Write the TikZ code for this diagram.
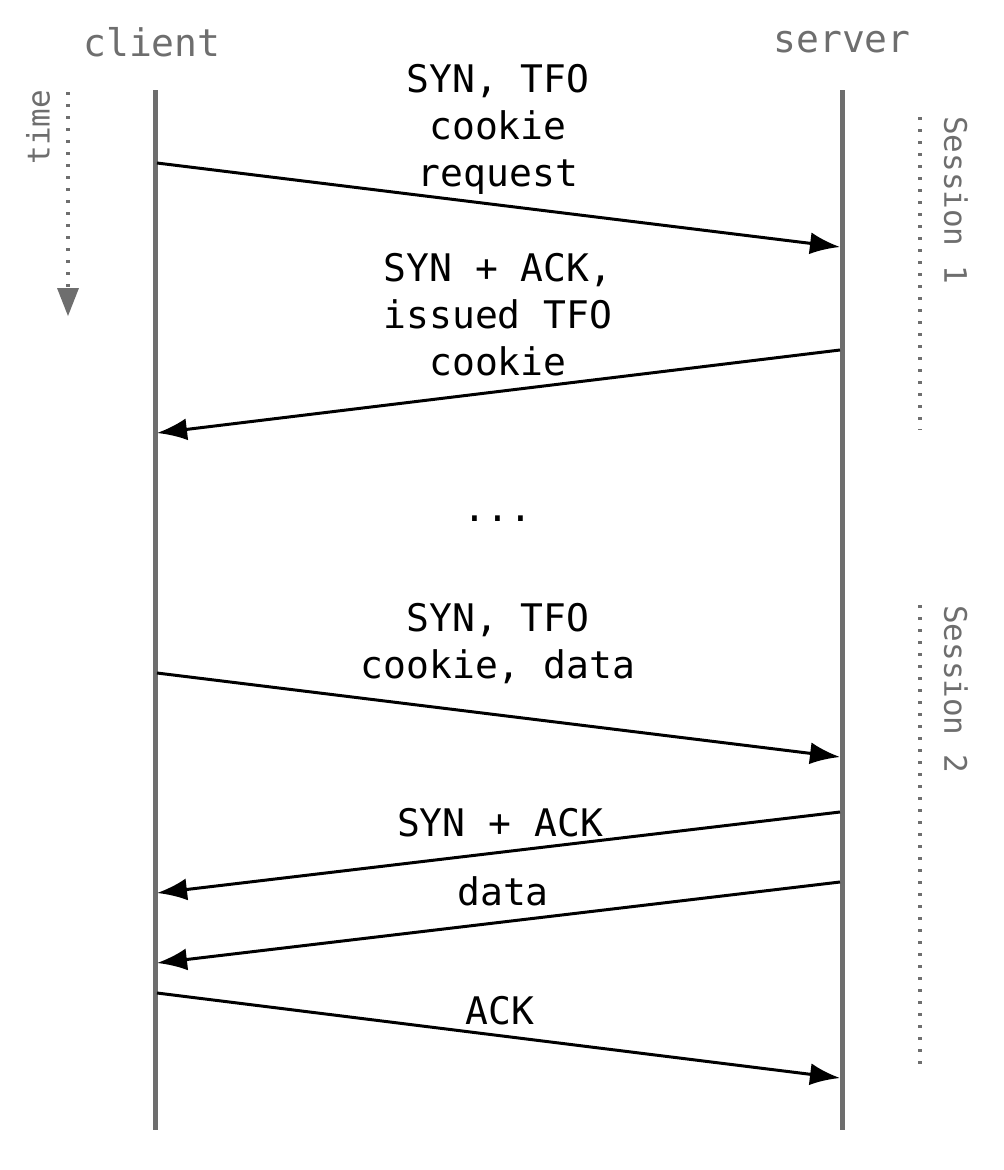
\documentclass[tikz,border=0pt]{standalone}
\usepackage{fontspec}
\setmonofont{DejaVu Sans Mono}
\usetikzlibrary{arrows.meta}
\definecolor{lifegray}{HTML}{6E6E6E}
\tikzset{
  actor/.style={font=\ttfamily\fontsize{38}{46}\selectfont, text=lifegray},
  lifeline/.style={draw=lifegray, line width=5pt},
  msg/.style={draw=black, line width=3pt, -{Latex[length=30pt,width=22pt]}},
  msglabel/.style={font=\ttfamily\fontsize{38}{47}\selectfont, align=center, inner sep=0pt},
  sidenote/.style={font=\ttfamily\fontsize{31}{38}\selectfont, text=lifegray, inner sep=0pt},
  dotline/.style={draw=lifegray, line width=3.2pt, dash pattern=on 3.2pt off 8.8pt}
}
\begin{document}
\begin{tikzpicture}[x=1pt,y=-1pt]
\useasboundingbox (0,0) rectangle (1004,1170);

% Client and server
\node[actor] (client) at (152,42) {client};
\node[actor] (server) at (842,42) {server};
\coordinate (ctop) at (155,90);
\coordinate (cbot) at (155,1130);
\coordinate (stop) at (842,90);
\coordinate (sbot) at (842,1130);
\draw[lifeline] (ctop) -- (cbot);
\draw[lifeline] (stop) -- (sbot);

% time
\node[sidenote, rotate=90] (time) at (38,127) {time};
\coordinate (tstart) at (68,92);
\coordinate (tend) at (68,288);
\coordinate (ttip) at (68,316);
\draw[dotline] (tstart) -- (tend);
\fill[lifegray] (57,288) -- (79,288) -- (ttip) -- cycle;

% Session 1
\node[sidenote, rotate=-90] (sess1) at (956,200) {Session 1};
\coordinate (s1top) at (920,117);
\coordinate (s1bot) at (920,430);
\draw[dotline] (s1top) -- (s1bot);

% Session 2
\node[sidenote, rotate=-90] (sess2) at (956,689) {Session 2};
\coordinate (s2top) at (920,605);
\coordinate (s2bot) at (920,1072);
\draw[dotline] (s2top) -- (s2bot);

% SYN, TFO cookie request
\coordinate (c1) at (157,163);
\coordinate (s1) at (840,247);
\draw[msg] (c1) -- (s1);
\node[msglabel] (l1) at (498,129) {SYN, TFO\\cookie\\request};

% SYN + ACK, issued TFO cookie
\coordinate (s2) at (840,350);
\coordinate (c2) at (157,433);
\draw[msg] (s2) -- (c2);
\node[msglabel] (l2) at (498,315) {SYN + ACK,\\issued TFO\\cookie};

% ...
\node[msglabel] (dots) at (498,519) {...};

% SYN, TFO cookie, data
\coordinate (c3) at (157,673);
\coordinate (s3) at (840,757);
\draw[msg] (c3) -- (s3);
\node[msglabel] (l3) at (498,644) {SYN, TFO\\cookie, data};

% SYN + ACK
\coordinate (s4) at (840,812);
\coordinate (c4) at (157,893);
\draw[msg] (s4) -- (c4);
\node[msglabel] (l4) at (500,823) {SYN + ACK};

% data
\coordinate (s5) at (840,882);
\coordinate (c5) at (157,963);
\draw[msg] (s5) -- (c5);
\node[msglabel] (l5) at (503,891) {data};

% ACK
\coordinate (c6) at (157,993);
\coordinate (s6) at (840,1078);
\draw[msg] (c6) -- (s6);
\node[msglabel] (l6) at (500,1011) {ACK};

\end{tikzpicture}
\end{document}
